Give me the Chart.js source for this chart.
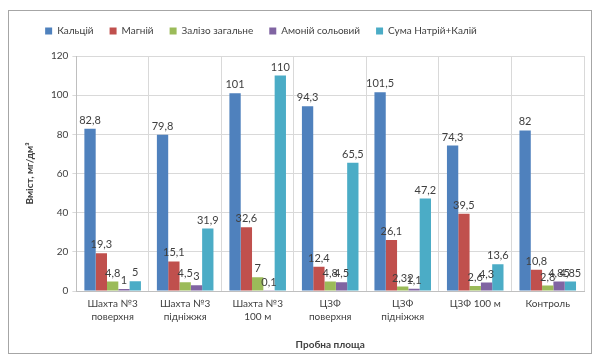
<!DOCTYPE html>
<html>
<head>
<meta charset="utf-8">
<script src="https://cdn.jsdelivr.net/npm/chart.js@4/dist/chart.umd.min.js"></script>
<style>
  html, body { margin: 0; padding: 0; background: #ffffff; }
  #wrap { width: 601px; height: 361px; }
</style>
</head>
<body>
<div id="wrap"><canvas id="c" width="601" height="361"></canvas></div>
<script>
// Sampling sites
const categories = [
  ['Шахта №3', 'поверхня'],
  ['Шахта №3', 'підніжжя'],
  ['Шахта №3', '100 м'],
  ['ЦЗФ', 'поверхня'],
  ['ЦЗФ', 'підніжжя'],
  'ЦЗФ 100 м',
  'Контроль'
];

// Content, mg/dm³
const calcium   = [82.8, 79.8, 101, 94.3, 101.5, 74.3, 82];
const magnesium = [19.3, 15.1, 32.6, 12.4, 26.1, 39.5, 10.8];
const ironTotal = [4.8, 4.5, 7, 4.8, 2.32, 2.6, 2.8];
const ammonium  = [1, 3, 0.1, 4.5, 1.1, 4.3, 4.85];
const sodiumPotassium = [5, 31.9, 110, 65.5, 47.2, 13.6, 4.85];

const yTicks = { min: 0, max: 120, step: 20 };

const FONT = 'Lato, "Open Sans", sans-serif';

// Outer frame around the whole chart
const framePlugin = {
  id: 'frame',
  beforeDraw(chart) {
    const ctx = chart.ctx;
    ctx.save();
    ctx.fillStyle = '#ffffff';
    ctx.fillRect(0, 0, chart.width, chart.height);
    ctx.strokeStyle = '#a6a6a6';
    ctx.lineWidth = 1;
    ctx.strokeRect(8.5, 10.5, 583, 343);
    ctx.restore();
  }
};

// Extra space under the legend, and the legend nudged to the left
const legendPlace = {
  id: 'legendPlace',
  beforeInit(chart) {
    const fit = chart.legend.fit;
    chart.legend.fit = function () {
      fit.bind(chart.legend)();
      this.height += 10;
    };
  },
  afterLayout(chart) {
    chart.legend.left -= 86;
  }
};

// Value labels above every bar, decimal comma
const valueLabels = {
  id: 'valueLabels',
  afterDatasetsDraw(chart) {
    const ctx = chart.ctx;
    ctx.save();
    ctx.font = '11px ' + FONT;
    ctx.fillStyle = '#404040';
    ctx.textAlign = 'center';
    ctx.textBaseline = 'bottom';
    chart.data.datasets.forEach((ds, di) => {
      const meta = chart.getDatasetMeta(di);
      meta.data.forEach((bar, i) => {
        const txt = String(ds.data[i]).replace('.', ',');
        ctx.fillText(txt, bar.x, bar.y - 3);
      });
    });
    ctx.restore();
  }
};

const ds = (label, data, color) => ({
  label, data, backgroundColor: color, borderWidth: 0,
  barPercentage: 1.0, categoryPercentage: 0.78
});

new Chart(document.getElementById('c'), {
  type: 'bar',
  data: {
    labels: categories,
    datasets: [
      ds('Кальцій', calcium, '#4F81BD'),
      ds('Магній', magnesium, '#C0504D'),
      ds('Залізо загальне', ironTotal, '#9BBB59'),
      ds('Амоній сольовий', ammonium, '#8064A2'),
      ds('Сума Натрій+Калій', sodiumPotassium, '#4BACC6')
    ]
  },
  options: {
    responsive: false,
    animation: false,
    devicePixelRatio: 1,
    layout: { padding: { left: 24, right: 17, top: 10, bottom: 10 } },
    plugins: {
      legend: {
        position: 'top',
        labels: {
          boxWidth: 7, boxHeight: 7, padding: 16,
          color: '#404040',
          font: { family: FONT, size: 10 }
        }
      },
      tooltip: { enabled: false }
    },
    scales: {
      x: {
        offset: true,
        grid: { offset: true, color: '#d9d9d9', drawTicks: false },
        border: { color: '#bfbfbf' },
        ticks: { color: '#404040', font: { family: FONT, size: 10, lineHeight: 1.3 }, maxRotation: 0, autoSkip: false, padding: 6 },
        title: { display: true, text: 'Пробна площа', color: '#404040', font: { family: FONT, size: 10, weight: 'bold' }, padding: { top: 10, bottom: 0 } }
      },
      y: {
        min: yTicks.min, max: yTicks.max,
        grid: { color: '#d9d9d9', drawTicks: true, tickLength: 4 },
        border: { color: '#bfbfbf' },
        ticks: { stepSize: yTicks.step, color: '#404040', font: { family: FONT, size: 10 }, padding: 4 },
        title: { display: true, text: 'Вміст, мг/дм³', color: '#404040', font: { family: FONT, size: 10, weight: 'bold' }, padding: { top: 0, bottom: 11 } }
      }
    }
  },
  plugins: [framePlugin, legendPlace, valueLabels]
});
</script>
</body>
</html>
